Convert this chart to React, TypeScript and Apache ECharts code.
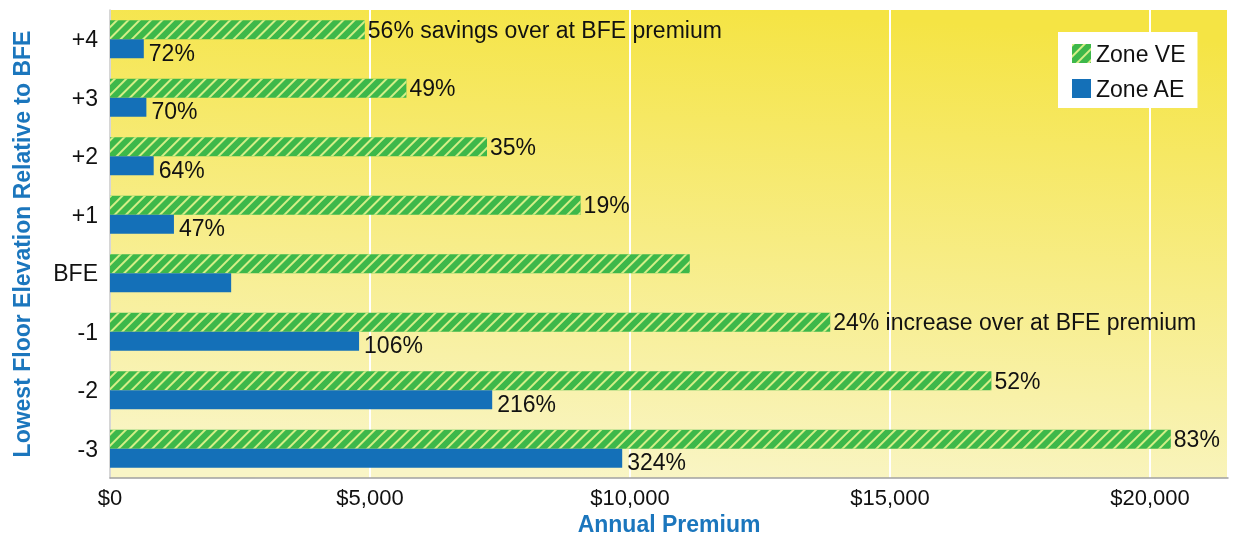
import React, { useEffect, useRef } from "react";
import * as echarts from "echarts";

const categories = ["+4", "+3", "+2", "+1", "BFE", "-1", "-2", "-3"];
const zoneVE = [4900, 5700, 7250, 9050, 11150, 13850, 16950, 20400];
const zoneAE = [650, 700, 840, 1230, 2330, 4790, 7350, 9850];
const labelsVE = ["56% savings over at BFE premium", "49%", "35%", "19%", "", "24% increase over at BFE premium", "52%", "83%"];
const labelsAE = ["72%", "70%", "64%", "47%", "", "106%", "216%", "324%"];
const xTicks = [0, 5000, 10000, 15000, 20000];

const FONT = "'Liberation Sans', Arial, sans-serif";
const BLUE_TITLE = "#1b76bd";

export default function App() {
  const ref = useRef<HTMLDivElement>(null);
  useEffect(() => {
    if (!ref.current) return;
    const chart = echarts.init(ref.current, null, { renderer: "svg" });
    chart.setOption({
      animation: false,
      textStyle: { fontFamily: FONT },
      grid: {
        left: 110,
        right: 5,
        top: 10,
        bottom: 58,
        outerBoundsMode: "none",
        containLabel: false,
        show: true,
        borderWidth: 0,
        backgroundColor: new echarts.graphic.LinearGradient(0.42, 1, 0.58, 0, [
          { offset: 0, color: "#f9f5c6" },
          { offset: 1, color: "#f5e444" },
        ]),
      },
      legend: {
        orient: "vertical",
        left: 1058,
        top: 32,
        padding: [10, 12, 8, 14],
        backgroundColor: "#ffffff",
        itemWidth: 19,
        itemHeight: 19,
        itemGap: 12,
        icon: "rect",
        textStyle: { fontSize: 23, color: "#111", fontFamily: FONT },
        data: ["Zone VE", "Zone AE"],
      },
      xAxis: {
        type: "value",
        min: 0,
        max: 21500,
        interval: 5000,
        name: "Annual Premium",
        nameLocation: "middle",
        nameGap: 34,
        nameTextStyle: { fontSize: 23, fontWeight: "bold", color: BLUE_TITLE, fontFamily: FONT },
        axisLine: { show: true, lineStyle: { color: "#a0a0a0", width: 1.5 } },
        axisTick: { show: false },
        axisLabel: {
          fontSize: 22,
          color: "#111",
          margin: 8,
          fontFamily: FONT,
          formatter: (v: number) => (xTicks.includes(v) ? "$" + v.toLocaleString("en-US") : ""),
        },
        splitLine: { show: true, lineStyle: { color: "#ffffff", width: 2 } },
      },
      yAxis: {
        type: "category",
        inverse: true,
        data: categories,
        name: "Lowest Floor Elevation Relative to BFE",
        nameLocation: "middle",
        nameRotate: 90,
        nameGap: 77,
        nameTextStyle: { fontSize: 23, fontWeight: "bold", color: BLUE_TITLE, fontFamily: FONT },
        axisLine: { show: true, lineStyle: { color: "#c8c8c8", width: 1.5 } },
        axisTick: { show: false },
        axisLabel: { fontSize: 23, color: "#111", margin: 12, fontFamily: FONT },
        splitLine: { show: false },
      },
      series: [
        {
          name: "Zone VE",
          type: "bar",
          data: zoneVE,
          barWidth: 19,
          barGap: "0%",
          itemStyle: {
            color: "#3db84a",
            decal: {
              symbol: "rect",
              symbolSize: 1,
              dashArrayX: [1, 0],
              dashArrayY: [1.5, 6],
              rotation: -Math.PI / 4,
              color: "#d4ef86",
            },
          },
          label: {
            show: true,
            position: "right",
            distance: 3,
            fontSize: 23,
            color: "#111",
            fontFamily: FONT,
            formatter: (p: any) => labelsVE[p.dataIndex],
          },
        },
        {
          name: "Zone AE",
          type: "bar",
          data: zoneAE,
          barWidth: 19,
          barGap: "0%",
          itemStyle: { color: "#1470b8" },
          label: {
            show: true,
            position: "right",
            distance: 5,
            offset: [0, 4],
            fontSize: 23,
            color: "#111",
            fontFamily: FONT,
            formatter: (p: any) => labelsAE[p.dataIndex],
          },
        },
      ],
    });
    return () => chart.dispose();
  }, []);
  return <div ref={ref} style={{ position: "fixed", left: 0, top: 0, width: 1233, height: 536 }} />;
}
